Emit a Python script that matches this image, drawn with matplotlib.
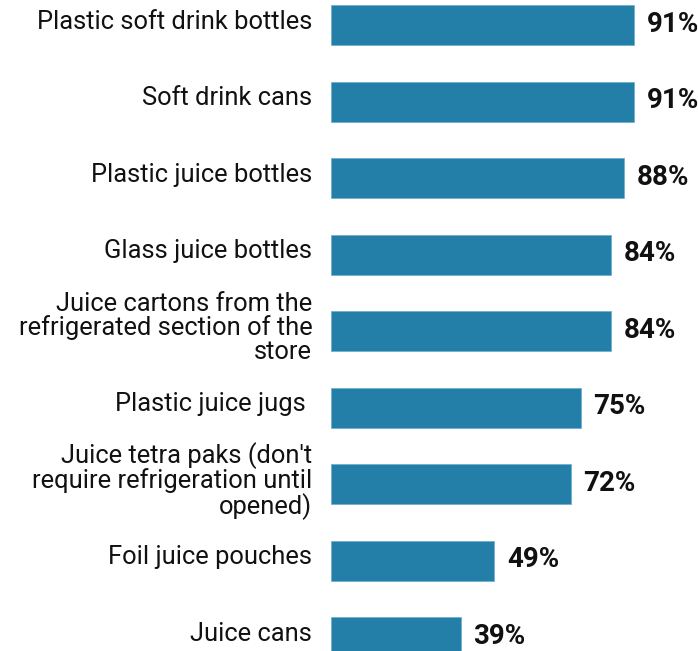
import matplotlib.pyplot as plt
import numpy as np

labels = [
    "Plastic soft drink bottles",
    "Soft drink cans",
    "Plastic juice bottles",
    "Glass juice bottles",
    "Juice cartons from the\nrefrigerated section of the\nstore",
    "Plastic juice jugs ",
    "Juice tetra paks (don't\nrequire refrigeration until\nopened)",
    "Foil juice pouches",
    "Juice cans",
]
values = [91, 91, 88, 84, 84, 75, 72, 49, 39]

W, H = 698, 651
fig = plt.figure(figsize=(W / 100, H / 100), dpi=100)

# axes spans 0..100% horizontally, rows spaced 76.5 px apart
x0, x1 = 331, 664
ax = fig.add_axes([x0 / W, 0, (x1 - x0) / W, 1])
pitch, first = 76.5, 25
ax.set_xlim(0, 100)
ax.set_ylim((H - first) / pitch, -first / pitch)

y = np.arange(len(values))
ax.barh(y, values, height=40 / pitch, color="#237fa7",
        edgecolor="#6fb0cf", linewidth=0.6)

for yi, lab, v in zip(y, labels, values):
    ax.text(-5.6, yi - 0.04, lab, ha="right", va="center",
            fontsize=18.4, family="Roboto", linespacing=0.97,
            color="#111111", clip_on=False)
    ax.text(v + 3.8, yi - 0.01, f"{v}%", ha="left", va="center",
            fontsize=20, family="Roboto", fontweight="bold",
            color="#111111", clip_on=False)

ax.axis("off")
fig.savefig("out.png", dpi=100)
